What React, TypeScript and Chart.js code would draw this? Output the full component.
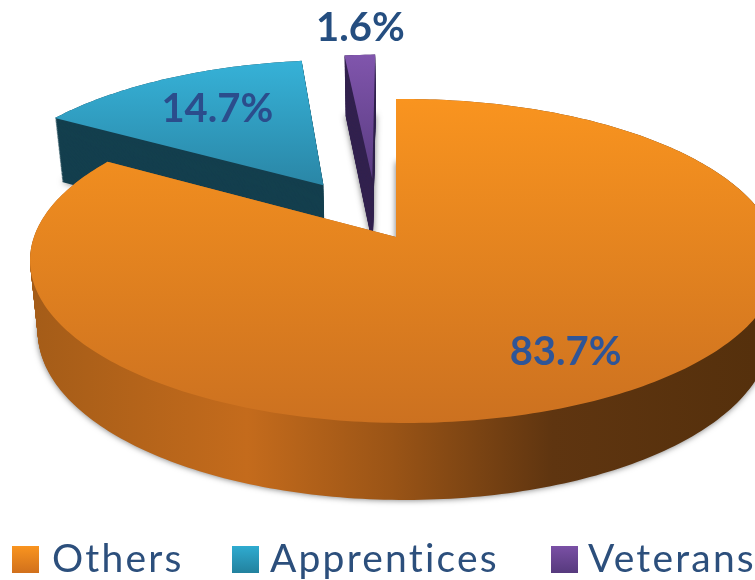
import React, { useEffect, useRef } from "react";
import { Chart, registerables } from "chart.js";

Chart.register(...registerables);

const categories = ["Others", "Apprentices", "Veterans"];
const shares = [83.7, 14.7, 1.6];

// appearance of each slice
const explode = [{ u: 0, v: 0 }, { u: -0.207, v: -0.345 }, { u: -0.068, v: -0.39 }];
const labelAt = [{ u: 0.41, v: 0.652 }, { u: -0.555, v: -0.926 }, { u: -0.12, v: -1.64 }];
const labelColors = ["#2f5597", "#2b4d8c", "#254e80"];
const topColors = [["#f9941f", "#cc7120"], ["#36b2d8", "#2a86a6"], ["#8055ac", "#5a3c82"]];
const topRange = [[99, 423], [60, 186], [56, 176]];
const legendX = [[12, 52], [232, 270], [551, 588]];
const legendColors = [["#f9941f", "#cf6f1c"], ["#2fabd0", "#22809c"], ["#7a50a5", "#55397c"]];
const legendText = "#2c4f7c";

// perspective of the disc
const CX = 396, CY = 237, RX = 370, RY = 158.4, K = -0.148, M = -0.022;

function project(u: number, v: number, t: number) {
  const d = 1 + K * v + M * u;
  const x = (RX * u) / d;
  const y = (RY * v) / d;
  return { x: CX + x * (1 - 0.021 * t), y: CY + y + t * (70 + 7 * v) };
}

function tracePath(ctx: CanvasRenderingContext2D, a0: number, a1: number, off: { u: number; v: number }, t: number) {
  ctx.beginPath();
  const c = project(off.u, off.v, t);
  ctx.moveTo(c.x, c.y);
  const n = Math.max(4, Math.ceil(((a1 - a0) * 180) / Math.PI));
  for (let i = 0; i <= n; i++) {
    const a = a0 + ((a1 - a0) * i) / n;
    const p = project(off.u + Math.cos(a), off.v + Math.sin(a), t);
    ctx.lineTo(p.x, p.y);
  }
  ctx.closePath();
}

function sideFill(ctx: CanvasRenderingContext2D, i: number) {
  if (i === 1) return "#143f4e";
  if (i === 2) return "#33224f";
  const g = ctx.createLinearGradient(30, 0, 755, 0);
  g.addColorStop(0, "#a45c18");
  g.addColorStop(0.3, "#c46b1c");
  g.addColorStop(0.5, "#9a5416");
  g.addColorStop(0.72, "#5f3510");
  g.addColorStop(1, "#55300c");
  return g;
}

const solidPie = {
  id: "solidPie",
  beforeDatasetsDraw(chart: any) {
    const ctx: any = chart.ctx;
    const arcs = chart.getDatasetMeta(0).data;
    ctx.save();
    for (const i of [1, 2, 0]) {
      const { startAngle, endAngle } = arcs[i].getProps(["startAngle", "endAngle"], true);
      const off = explode[i];
      const side = sideFill(ctx, i);
      ctx.fillStyle = side;
      ctx.shadowColor = "rgba(0,0,0,0.55)";
      ctx.shadowBlur = 6;
      tracePath(ctx, startAngle, endAngle, off, 1);
      ctx.fill();
      ctx.shadowColor = "transparent";
      ctx.shadowBlur = 0;
      for (let s = 79; s >= 0; s--) {
        tracePath(ctx, startAngle, endAngle, off, s / 80);
        ctx.fill();
      }
      const g = ctx.createLinearGradient(0, topRange[i][0], 0, topRange[i][1]);
      g.addColorStop(0, topColors[i][0]);
      g.addColorStop(1, topColors[i][1]);
      ctx.fillStyle = g;
      tracePath(ctx, startAngle, endAngle, off, 0);
      ctx.fill();
    }
    ctx.textAlign = "center";
    ctx.textBaseline = "middle";
    ctx.font = "bold 40px Lato";
    shares.forEach((val, i) => {
      const p = project(labelAt[i].u, labelAt[i].v, 0);
      ctx.fillStyle = labelColors[i];
      ctx.fillText(val.toFixed(1) + "%", p.x, p.y);
    });
    ctx.textAlign = "left";
    ctx.font = "39px Lato";
    ctx.letterSpacing = "2.2px";
    (chart.data.labels as string[]).forEach((name, i) => {
      const g = ctx.createLinearGradient(0, 546, 0, 574);
      g.addColorStop(0, legendColors[i][0]);
      g.addColorStop(1, legendColors[i][1]);
      ctx.fillStyle = g;
      ctx.fillRect(legendX[i][0], 546, 27, 27);
      ctx.fillStyle = legendText;
      ctx.fillText(name, legendX[i][1], 559);
    });
    ctx.letterSpacing = "0px";
    ctx.restore();
    return false;
  },
};

export default function App() {
  const ref = useRef<HTMLCanvasElement>(null);
  useEffect(() => {
    const chart = new Chart(ref.current!, {
      type: "pie",
      data: { labels: categories, datasets: [{ data: shares, borderWidth: 0 }] },
      options: {
        animation: false,
        responsive: false,
        events: [],
        plugins: { legend: { display: false }, tooltip: { enabled: false } },
      },
      plugins: [solidPie],
    });
    return () => chart.destroy();
  }, []);
  return (
    <canvas
      ref={ref}
      width={755}
      height={580}
      style={{ position: "absolute", left: 0, top: 0, filter: "blur(0.6px)", background: "#fff" }}
    />
  );
}
